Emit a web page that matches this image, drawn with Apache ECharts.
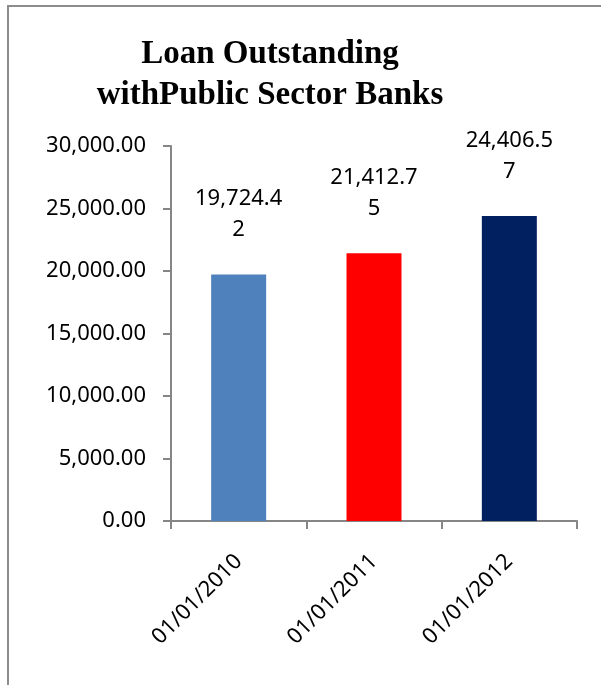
<!DOCTYPE html>
<html>
<head>
<meta charset="utf-8">
<script src="https://cdn.jsdelivr.net/npm/echarts@6/dist/echarts.min.js"></script>
<style>
  html, body { margin: 0; padding: 0; background: #fff; }
  #container { width: 601px; height: 685px; }
</style>
</head>
<body>
<div id="container"></div>
<script>
  // chart data
  const categories = ['01/01/2010', '01/01/2011', '01/01/2012'];
  const loanValues = [19724.42, 21412.75, 24406.57];
  const barColors = ['#4F81BD', '#FF0000', '#002060'];
  const yTicks = [0, 5000, 10000, 15000, 20000, 25000, 30000];

  function fmt(v, digits) {
    return v.toLocaleString('en-US', {minimumFractionDigits: digits, maximumFractionDigits: digits});
  }

  let chart = echarts.init(document.getElementById('container'));
  let option = {
    animation: false,
    graphic: [{
      type: 'rect',
      shape: {x: 8, y: 6, width: 620, height: 700},
      style: {fill: 'none', stroke: '#8c8c8c', lineWidth: 2}
    }],
    title: {
      text: 'Loan Outstanding\nwithPublic Sector Banks',
      left: 265,
      textAlign: 'center',
      top: 29,
      textStyle: {
        fontFamily: 'Liberation Serif',
        fontWeight: 'bold',
        fontSize: 33,
        lineHeight: 41,
        color: '#000'
      }
    },
    grid: {left: 171, top: 146, width: 406, height: 375},
    xAxis: {
      type: 'category',
      data: categories,
      axisLine: {lineStyle: {color: '#868686', width: 2}},
      axisTick: {show: true, length: 8, lineStyle: {color: '#868686', width: 2}},
      axisLabel: {
        rotate: 45,
        margin: 37,
        fontFamily: 'Noto Sans',
        fontSize: 22,
        color: '#000'
      }
    },
    yAxis: {
      type: 'value',
      min: 0,
      max: 30000,
      interval: 5000,
      splitLine: {show: false},
      axisLine: {show: true, lineStyle: {color: '#868686', width: 2}},
      axisTick: {show: true, length: 8, lineStyle: {color: '#868686', width: 2}},
      axisLabel: {
        margin: 25,
        fontFamily: 'Noto Sans',
        fontSize: 22,
        color: '#000',
        formatter: function (v) { return yTicks.indexOf(v) >= 0 ? fmt(v, 2) : ''; }
      }
    },
    series: [{
      type: 'bar',
      barWidth: 55,
      data: loanValues.map((v, i) => ({value: v, itemStyle: {color: barColors[i]}})),
      label: {
        show: true,
        position: 'top',
        distance: 29,
        fontFamily: 'Noto Sans',
        fontSize: 22,
        lineHeight: 31,
        color: '#000',
        formatter: function (p) {
          let s = fmt(p.value, 2);
          return s.slice(0, s.length - 1) + '\n' + s.slice(s.length - 1);
        }
      }
    }]
  };
  chart.setOption(option);
</script>
</body>
</html>
